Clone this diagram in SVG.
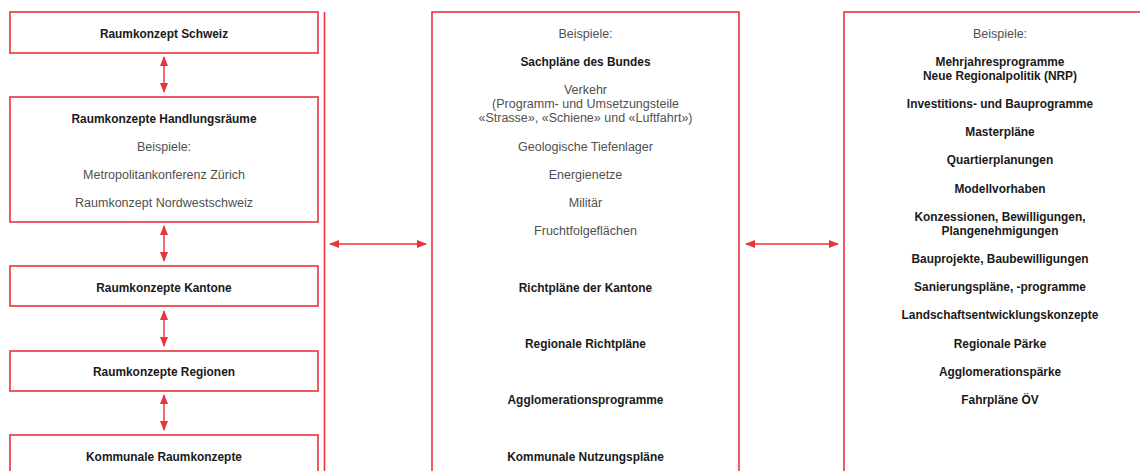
<svg xmlns="http://www.w3.org/2000/svg" width="1140" height="471" viewBox="0 0 1140 471">
<style>
.box{fill:#fff;stroke:#e8343c;stroke-width:1.6}
.ln{stroke:#e8343c;stroke-width:1.6;fill:none}
.conn{stroke:#e8343c;stroke-width:1.4;fill:none;marker-start:url(#ah);marker-end:url(#ah)}
text{font-family:"Liberation Sans",Arial,sans-serif;text-anchor:middle}
.b{font-weight:bold;fill:#1a1a1a;font-size:11.9px}
.r{fill:#505050;font-size:12.5px}
</style>
<defs>
<marker id="ah" viewBox="0 0 10 8" refX="9" refY="4" markerWidth="10" markerHeight="8" markerUnits="userSpaceOnUse" orient="auto-start-reverse">
<path d="M0,0 L10,4 L0,8 Z" fill="#e8343c"/>
</marker>
</defs>
<rect width="1140" height="471" fill="#fff"/>
<g id="n-schweiz"><rect class="box" x="10" y="12" width="308" height="41"/><text class="b" x="164" y="38">Raumkonzept Schweiz</text></g>
<g id="n-handlungsraeume"><rect class="box" x="10" y="97" width="308" height="125"/>
<text class="b" x="164" y="123">Raumkonzepte Handlungsräume</text>
<text class="r" x="164" y="151">Beispiele:</text>
<text class="r" x="164" y="179">Metropolitankonferenz Zürich</text>
<text class="r" x="164" y="207">Raumkonzept Nordwestschweiz</text></g>
<g id="n-kantone"><rect class="box" x="10" y="266" width="308" height="40"/><text class="b" x="164" y="292">Raumkonzepte Kantone</text></g>
<g id="n-regionen"><rect class="box" x="10" y="351" width="308" height="40"/><text class="b" x="164" y="376">Raumkonzepte Regionen</text></g>
<g id="n-kommunal"><rect class="box" x="10" y="435" width="308" height="50"/><text class="b" x="164" y="461">Kommunale Raumkonzepte</text></g>
<g id="n-bracket"><line class="ln" x1="324.5" y1="12" x2="324.5" y2="471"/></g>
<g id="n-mitte"><rect class="box" x="432" y="12" width="307" height="470"/>
<text class="r" x="585.5" y="38">Beispiele:</text>
<text class="b" x="585.5" y="66">Sachpläne des Bundes</text>
<text class="r" x="585.5" y="94">Verkehr</text>
<text class="r" x="585.5" y="108">(Programm- und Umsetzungsteile</text>
<text class="r" x="585.5" y="122">«Strasse», «Schiene» und «Luftfahrt»)</text>
<text class="r" x="585.5" y="151">Geologische Tiefenlager</text>
<text class="r" x="585.5" y="179">Energienetze</text>
<text class="r" x="585.5" y="207">Militär</text>
<text class="r" x="585.5" y="235">Fruchtfolgeflächen</text>
<text class="b" x="585.5" y="292">Richtpläne der Kantone</text>
<text class="b" x="585.5" y="348">Regionale Richtpläne</text>
<text class="b" x="585.5" y="404">Agglomerationsprogramme</text>
<text class="b" x="585.5" y="461">Kommunale Nutzungspläne</text></g>
<g id="n-rechts"><rect class="box" x="844" y="12" width="320" height="470"/>
<text class="r" x="1000" y="38">Beispiele:</text>
<text class="b" x="1000" y="66">Mehrjahresprogramme</text>
<text class="b" x="1000" y="80">Neue Regionalpolitik (NRP)</text>
<text class="b" x="1000" y="108">Investitions- und Bauprogramme</text>
<text class="b" x="1000" y="136">Masterpläne</text>
<text class="b" x="1000" y="164">Quartierplanungen</text>
<text class="b" x="1000" y="193">Modellvorhaben</text>
<text class="b" x="1000" y="221">Konzessionen, Bewilligungen,</text>
<text class="b" x="1000" y="235">Plangenehmigungen</text>
<text class="b" x="1000" y="263">Bauprojekte, Baubewilligungen</text>
<text class="b" x="1000" y="291">Sanierungspläne, -programme</text>
<text class="b" x="1000" y="319">Landschaftsentwicklungskonzepte</text>
<text class="b" x="1000" y="348">Regionale Pärke</text>
<text class="b" x="1000" y="376">Agglomerationspärke</text>
<text class="b" x="1000" y="404">Fahrpläne ÖV</text></g>
<g id="connectors">
<line class="conn" x1="164" y1="57" x2="164" y2="92"/>
<line class="conn" x1="164" y1="226" x2="164" y2="261"/>
<line class="conn" x1="164" y1="311" x2="164" y2="346"/>
<line class="conn" x1="164" y1="395" x2="164" y2="430"/>
<line class="conn" x1="330" y1="244" x2="426" y2="244"/>
<line class="conn" x1="746" y1="244" x2="838" y2="244"/>
</g>
</svg>
